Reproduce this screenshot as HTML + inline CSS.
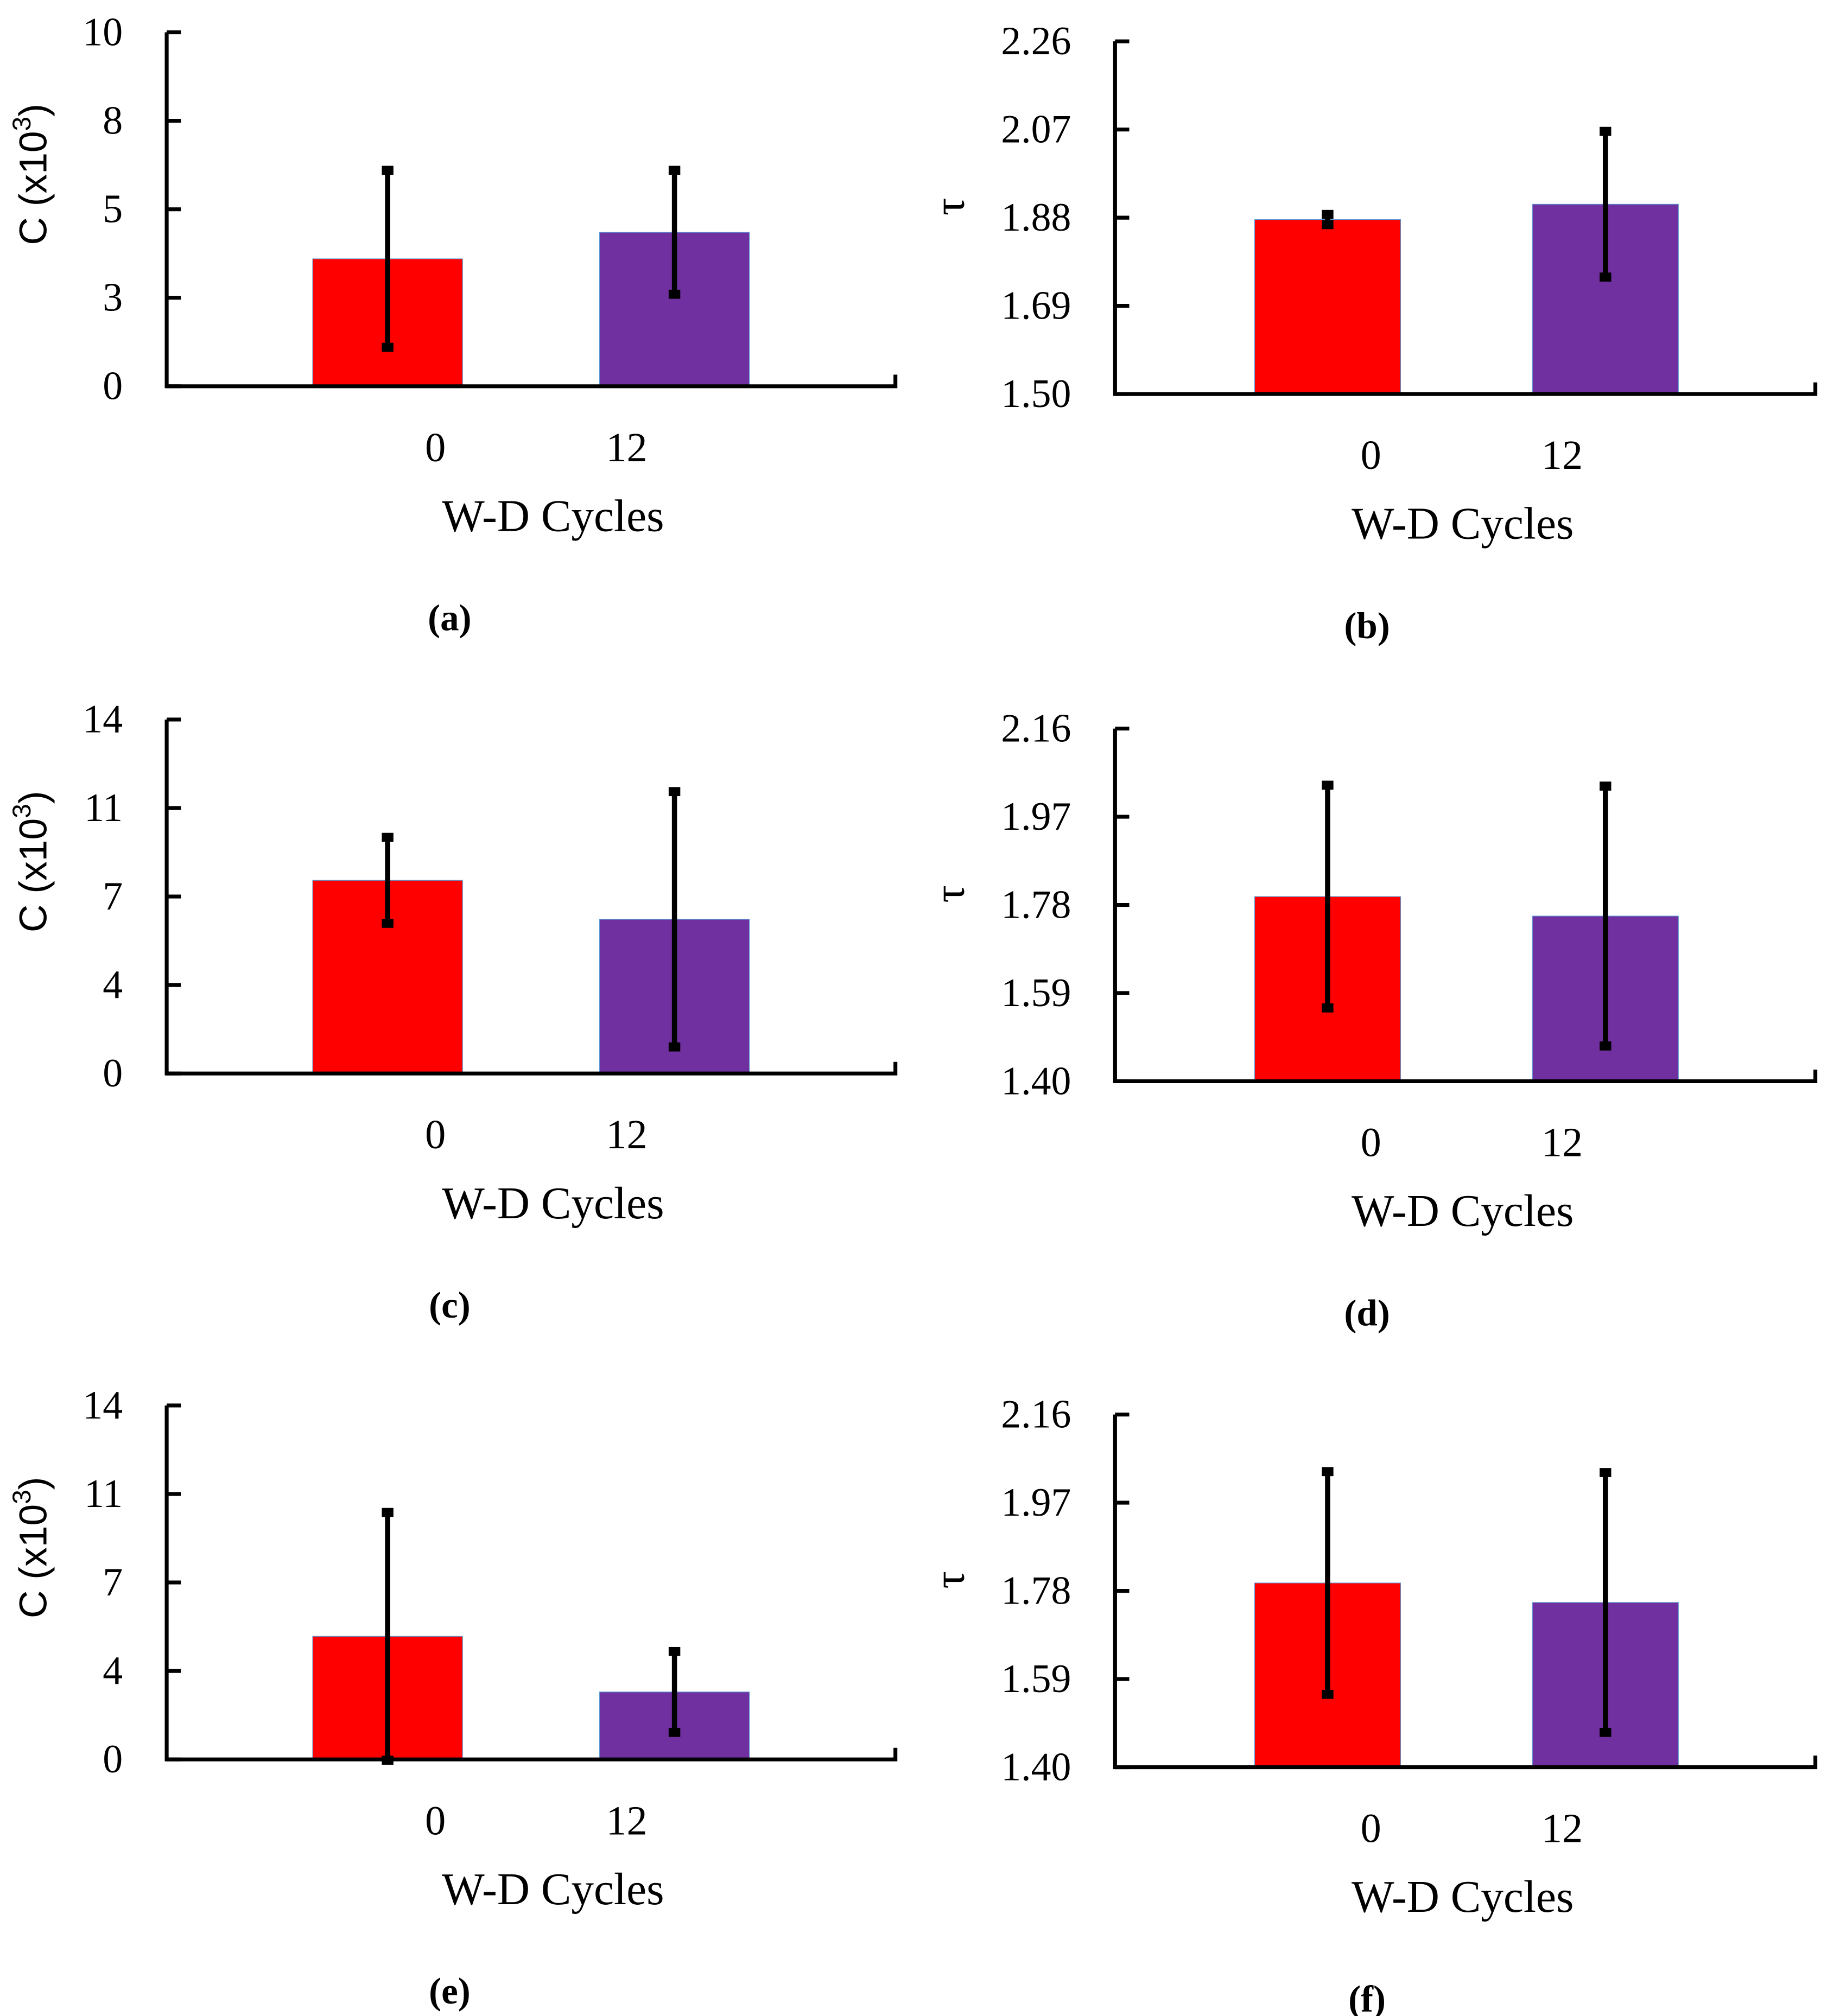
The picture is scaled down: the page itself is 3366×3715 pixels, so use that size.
<!DOCTYPE html>
<html><head><meta charset="utf-8">
<style>
html,body{margin:0;padding:0;background:#fff;}
svg{display:block;}
text{font-family:"Liberation Serif",serif;fill:#000;}
</style></head>
<body>
<svg id="fig" width="3366" height="3715" viewBox="0 0 1414 1560.6" xmlns="http://www.w3.org/2000/svg"></svg>
<script>
// Data
const categories = ["0", "12"];
const valuesA = [3.6, 4.35];   const errA = [2.5, 1.75];
const valuesB = [1.876, 1.909]; const errB = [0.011, 0.157];
const valuesC = [7.64, 6.1];   const errC = [1.7, 5.05];
const valuesD = [1.798, 1.756]; const errD = [0.24, 0.28];
const valuesE = [4.87, 2.67];  const errE = [4.9, 1.6];
const valuesF = [1.797, 1.755]; const errF = [0.24, 0.28];
const ticksA = ["0","3","5","8","10"];
const ticksB = ["1.50","1.69","1.88","2.07","2.26"];
const ticksC = ["0","4","7","11","14"];
const ticksD = ["1.40","1.59","1.78","1.97","2.16"];
const ticksE = ["0","4","7","11","14"];
const ticksF = ["1.40","1.59","1.78","1.97","2.16"];
const domainA = [0, 10], domainB = [1.50, 2.26], domainC = [0, 14], domainD = [1.40, 2.16], domainE = [0, 14], domainF = [1.40, 2.16];
const panelLabels = ["(a)","(b)","(c)","(d)","(e)","(f)"];

const svg = document.getElementById('fig');
const NS = 'http://www.w3.org/2000/svg';
function mk(tag, attrs, parent) {
  const e = document.createElementNS(NS, tag);
  for (const k in attrs) e.setAttribute(k, attrs[k]);
  (parent || svg).appendChild(e);
  return e;
}
const colors = ["#ff0000", "#7030a0"];

function panel(idx, left, values, errs, ticks, domain, yTitle) {
  const row = Math.floor(idx / 2);
  const L = left ? {ax:129, right:693, top:25, bottom:299, bx:[242,464], bw:116, lx:[337,485], tx:428, plx:348, ytx:28}
                 : {ax:863, right:1405, top:32, bottom:305, bx:[971,1186], bw:113, lx:[1061,1209], tx:1132, plx:1058, ytx:738};
  const dy = row === 0 ? 0 : (row === 1 ? 532 : 1063);
  const top = L.top + dy, bottom = L.bottom + dy;
  const g = mk('g', {});
  
  
  const y = v => bottom - (v - domain[0]) / (domain[1] - domain[0]) * (bottom - top);
  values.forEach((v, i) => {
    const r = mk('rect', {x:L.bx[i], y:y(v), width:L.bw, height:bottom - y(v), fill:colors[i], stroke:'#5b9bd5', 'stroke-width':0.5}, g);
    
    
  });
  values.forEach((v, i) => {
    const cx = L.bx[i] + L.bw / 2;
    const eg = mk('g', {}, g);
    
    
    mk('line', {x1:cx, x2:cx, y1:y(v + errs[i]), y2:y(v - errs[i]), stroke:'#000', 'stroke-width':4}, eg);
    mk('rect', {x:cx-4.5, y:y(v + errs[i])-3.5, width:9, height:7, fill:'#000'}, eg);
    mk('rect', {x:cx-4.5, y:y(v - errs[i])-3.5, width:9, height:7, fill:'#000'}, eg);
  });
  const ya = mk('line', {x1:L.ax, x2:L.ax, y1:top, y2:bottom + 1.5, stroke:'#000', 'stroke-width':3}, g);
  
  
  const xa = mk('path', {d:`M${L.ax},${bottom} H${L.right} V${bottom-9}`, fill:'none', stroke:'#000', 'stroke-width':3}, g);
  
  
  ticks.forEach((t, i) => {
    const ty = top + (bottom - top) * (ticks.length - 1 - i) / (ticks.length - 1);
    mk('line', {x1:L.ax, x2:L.ax + 11, y1:ty, y2:ty, stroke:'#000', 'stroke-width':3}, g);
    const tt = mk('text', {x:L.ax - 34, y:ty + 10, 'text-anchor':'end', 'font-size':31}, g);
    tt.textContent = t;
    
    
  });
  categories.forEach((c, i) => {
    const ct = mk('text', {x:L.lx[i], y:bottom + 58, 'text-anchor':'middle', 'font-size':32}, g);
    ct.textContent = c;
    
    
  });
  const xt = mk('text', {x:L.tx, y:bottom + 112, 'text-anchor':'middle', 'font-size':35}, g);
  xt.textContent = 'W-D Cycles';
  
  
  const pl = mk('text', {x:L.plx, y:bottom + 189, 'text-anchor':'middle', 'font-size':29, 'font-weight':'bold'}, g);
  pl.textContent = panelLabels[idx];
  
  
  const cy = left ? top + 110 : top + 128;
  const yt = mk('text', {x:L.ytx, y:cy, transform:`rotate(-90 ${L.ytx} ${cy})`, 'text-anchor':'middle', 'dominant-baseline':'middle', 'font-size': left ? 30 : 34, style: left ? 'font-family:"Liberation Sans",sans-serif' : ''}, g);
  if (left) {
    yt.appendChild(document.createTextNode('C (x10'));
    const sup = mk('tspan', {dy:-10, 'font-size':20}, yt);
    sup.textContent = '3';
    const cl = mk('tspan', {dy:10}, yt);
    cl.textContent = ')';
  } else {
    yt.textContent = yTitle;
  }
  
  
}
panel(0, true, valuesA, errA, ticksA, domainA, '');
panel(1, false, valuesB, errB, ticksB, domainB, 'τ');
panel(2, true, valuesC, errC, ticksC, domainC, '');
panel(3, false, valuesD, errD, ticksD, domainD, 'τ');
panel(4, true, valuesE, errE, ticksE, domainE, '');
panel(5, false, valuesF, errF, ticksF, domainF, 'τ');
</script>
</body></html>
